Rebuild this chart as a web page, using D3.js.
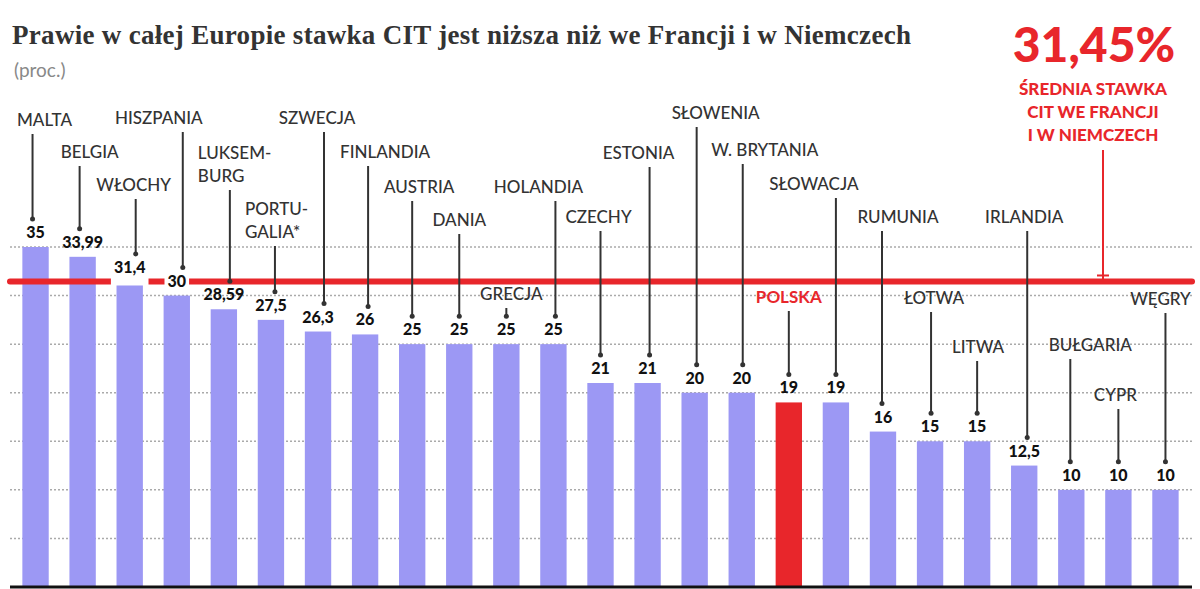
<!DOCTYPE html>
<html><head><meta charset="utf-8">
<script src="https://cdn.jsdelivr.net/npm/d3@7"></script>
<style>body{margin:0;background:#fff}svg{display:block}</style>
</head><body><svg id="c" width="1200" height="589"></svg>
<script>
const countries = ["MALTA","BELGIA","WŁOCHY","HISZPANIA","LUKSEM-|BURG","PORTU-|GALIA*","SZWECJA","FINLANDIA","AUSTRIA","DANIA","GRECJA","HOLANDIA","CZECHY","ESTONIA","SŁOWENIA","W. BRYTANIA","POLSKA","SŁOWACJA","RUMUNIA","ŁOTWA","LITWA","IRLANDIA","BUŁGARIA","CYPR","WĘGRY"];
const rates = [35,33.99,31.4,30,28.59,27.5,26.3,26,25,25,25,25,21,21,20,20,19,19,16,15,15,12.5,10,10,10];
const valueLabels = ["35","33,99","31,4","30","28,59","27,5","26,3","26","25","25","25","25","21","21","20","20","19","19","16","15","15","12,5","10","10","10"];
const highlight = "POLSKA";
const avgFrDe = 31.45;
const yTicks = [5,10,15,20,25,30,35];
// label layout: text centre y (px), text dx from bar centre, leader dx
const labelY  = [120,152,185,118,153,209,118,152,187,220,294,187,217,153,113,150,297,184,217,298,347,217,345,395,299];
const labelDx = [9,7,4,-18,-24,-25,-1,20,7,0,5,-15,-2,-9,21,23,0,-22,15,4,1,0,19,-3,-5];
const lineDx  = [-3,-3,6,6,6,4,6,3,0,0,0,2,0,2,2,1,0,0,-1,1,0,3,-1,0,0];
const anchors = ["middle","middle","middle","middle","start","start","middle","middle","middle","middle","middle","middle","middle","middle","middle","middle","middle","middle","middle","middle","middle","middle","middle","middle","middle"];

const svg = d3.select("#c");
const x = d3.scaleBand().domain(countries).range([12,1189]).paddingInner(0.44).paddingOuter(0.22);
const y = d3.scaleLinear().domain([0,35]).range([587,247]);

svg.append("text").attr("x",12).attr("y",44).attr("font-family","Liberation Serif, serif").attr("font-weight","bold").attr("font-size",27).attr("letter-spacing",0.3).attr("fill","#333")
  .text("Prawie w całej Europie stawka CIT jest niższa niż we Francji i w Niemczech");
svg.append("text").attr("x",14).attr("y",77).attr("font-family","Lato, sans-serif").attr("font-size",19).attr("fill","#888").text("(proc.)");

// grid
svg.append("g").selectAll("line").data(yTicks).join("line")
  .attr("x1",10).attr("x2",1192).attr("y1",d=>y(d)).attr("y2",d=>y(d))
  .attr("stroke","#aaa").attr("stroke-width",1.5).attr("stroke-dasharray","2,2");

// bars
svg.append("g").selectAll("rect").data(countries).join("rect")
  .attr("x",d=>x(d)).attr("width",x.bandwidth())
  .attr("y",(d,i)=>y(rates[i])).attr("height",(d,i)=>y(0)-y(rates[i]))
  .attr("fill",d=>d===highlight?"#e8262b":"#9c98f4");

// red average line
const ry = y(avgFrDe);
svg.append("line").attr("x1",10).attr("x2",1192).attr("y1",ry).attr("y2",ry).attr("stroke","#e8262b").attr("stroke-width",6).attr("stroke-linecap","round");

// value labels with white backing
const vg = svg.append("g");
countries.forEach((c,i)=>{
  const cx = x(c)+x.bandwidth()/2, vy = y(rates[i])-9;
  const t = vg.append("text").attr("x",cx).attr("y",vy).attr("text-anchor","middle")
    .attr("font-family","Lato, sans-serif").attr("font-weight","900").attr("font-size",16).attr("fill","#111").text(valueLabels[i]);
  if (Math.abs(vy-ry) < 14) {
    const b = t.node().getBBox();
    vg.insert("rect",()=>t.node()).attr("x",b.x-3).attr("y",ry-4).attr("width",b.width+6).attr("height",8).attr("fill","#fff");
  }
});

// name labels & leaders
const lg = svg.append("g");
countries.forEach((c,i)=>{
  const cx = x(c)+x.bandwidth()/2;
  const lines = c.split("|");
  const tx = cx + labelDx[i];
  const ty0 = labelY[i];
  const t = lg.append("text").attr("text-anchor",anchors[i]).attr("font-family","Lato, sans-serif").attr("font-size",17)
    .attr("fill",c===highlight?"#e8262b":"#333").attr("font-weight",c===highlight?"bold":"500");
  lines.forEach((s,k)=>t.append("tspan").attr("x",anchors[i]==="start"?cx-26:tx).attr("y",ty0+6+k*23).text(s));
  const lx = cx + lineDx[i];
  const top = ty0 + 14 + (lines.length-1)*23;
  const bot = y(rates[i]) - 28;
  if (bot - top > 6) {
    lg.append("line").attr("x1",lx).attr("x2",lx).attr("y1",top).attr("y2",bot).attr("stroke","#333").attr("stroke-width",2);
    lg.append("circle").attr("cx",lx).attr("cy",bot).attr("r",2.5).attr("fill","#333");
  }
});

// baseline
svg.append("line").attr("x1",10).attr("x2",1192).attr("y1",y(0)).attr("y2",y(0)).attr("stroke","#111").attr("stroke-width",3);

// annotation
const ag = svg.append("g").attr("fill","#e8262b").attr("font-family","Lato, sans-serif").attr("font-weight","900").attr("text-anchor","middle");
ag.append("text").attr("x",1094).attr("y",62).attr("font-size",48).text("31,45%");
["ŚREDNIA STAWKA","CIT WE FRANCJI","I W NIEMCZECH"].forEach((s,k)=>ag.append("text").attr("x",1093).attr("y",95+k*23).attr("font-size",17).text(s));
svg.append("line").attr("x1",1103).attr("x2",1103).attr("y1",150).attr("y2",ry).attr("stroke","#e8262b").attr("stroke-width",2);
svg.append("line").attr("x1",1097).attr("x2",1109).attr("y1",ry-6).attr("y2",ry-6).attr("stroke","#e8262b").attr("stroke-width",2);
</script></body></html>
